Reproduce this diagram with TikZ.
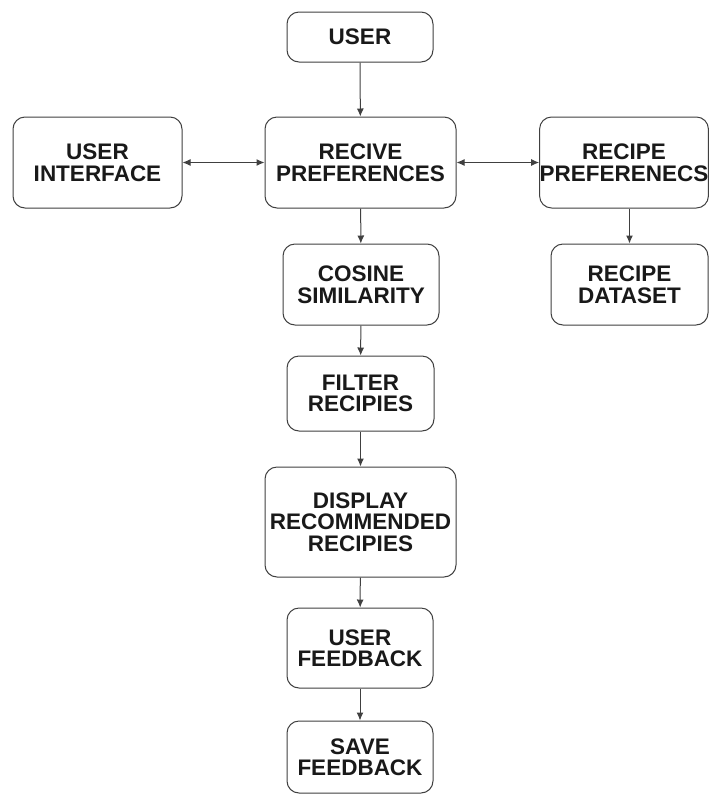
\documentclass[tikz,border=0pt]{standalone}
\usepackage{fontspec}
\setmainfont{Liberation Sans}
\usetikzlibrary{arrows.meta}
\begin{document}
\begin{tikzpicture}[x=1pt,y=-1pt,
  box/.style={draw=black!75, line width=1pt, rounded corners=12pt, fill=white,
    align=center, inner sep=0pt,
    font=\fontsize{22.5}{21.5}\selectfont\bfseries, text=black!90},
  conn/.style={draw=black!75, line width=1pt, -{Latex[length=8pt,width=7pt]}},
  biconn/.style={draw=black!75, line width=1pt, {Latex[length=8pt,width=7pt]}-{Latex[length=8pt,width=7pt]}}]
\useasboundingbox (0,0) rectangle (710,796);
\node[box, minimum width=146pt, minimum height=50pt] (user) at (360,37) {USER};
\node[box, minimum width=169pt, minimum height=91pt] (ui) at (97.5,162.5) {USER\\INTERFACE};
\node[box, minimum width=191pt, minimum height=91pt] (recv) at (360.5,162.5) {RECIVE\\PREFERENCES};
\node[box, minimum width=168pt, minimum height=91pt] (rpref) at (624,162.5) {RECIPE\\PREFERENECS};
\node[box, minimum width=156pt, minimum height=81pt] (cos) at (361,284.5) {COSINE\\SIMILARITY};
\node[box, minimum width=157pt, minimum height=81pt] (data) at (629.5,284.5) {RECIPE\\DATASET};
\node[box, minimum width=147pt, minimum height=75pt] (filter) at (360.5,393.5) {FILTER\\RECIPIES};
\node[box, minimum width=191pt, minimum height=110pt] (disp) at (360.5,522) {DISPLAY\\RECOMMENDED\\RECIPIES};
\node[box, minimum width=146pt, minimum height=80pt] (ufb) at (360,648) {USER\\FEEDBACK};
\node[box, minimum width=146pt, minimum height=72pt] (save) at (360,757) {SAVE\\FEEDBACK};
\draw[conn] (user) -- (recv);
\draw[biconn] (ui) -- (recv);
\draw[biconn] (recv) -- (rpref);
\draw[conn] (recv) -- (cos);
\draw[conn] (rpref.south -| data.north) -- (data);
\draw[conn] (cos) -- (filter);
\draw[conn] (filter) -- (disp);
\draw[conn] (disp) -- (ufb);
\draw[conn] (ufb) -- (save);
\end{tikzpicture}
\end{document}
